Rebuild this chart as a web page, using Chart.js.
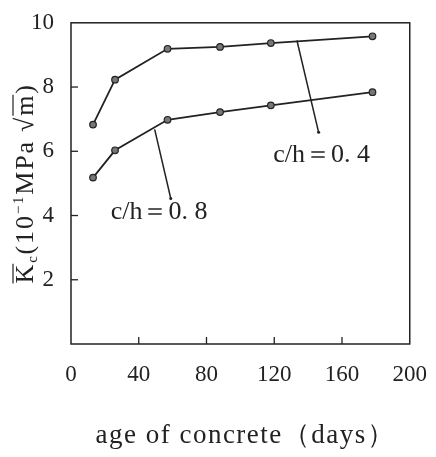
<!DOCTYPE html>
<html>
<head>
<meta charset="utf-8">
<script src="https://cdn.jsdelivr.net/npm/chart.js@4/dist/chart.umd.min.js"></script>
<style>
  html, body { margin: 0; padding: 0; background: #fff; }
  #wrap { width: 436px; height: 457px; }
</style>
</head>
<body>
<div id="wrap"><canvas id="chart" width="436" height="457"></canvas></div>
<script>
// values
const ages = [13, 26, 57, 88, 118, 178];
const kc04 = [6.83, 8.23, 9.19, 9.25, 9.37, 9.58];
const kc08 = [5.18, 6.03, 6.98, 7.22, 7.43, 7.84];

// leader lines from curve to label: [x, y] pairs
const leader04 = [[133.4, 9.45], [146.2, 6.59]];
const leader08 = [[49.4, 6.68], [58.9, 4.53]];

const labelText = ['c/h＝0. 4', 'c/h＝0. 8'];
const labelPos = [[148, 5.87], [52, 4.1]];

const xTicks = [0, 40, 80, 120, 160, 200];
const yTicks = [2, 4, 6, 8, 10];

const FONT = '"Liberation Serif", "DejaVu Serif", serif';
const INK = '#222';

function pts(xs, ys) {
  return xs.map((x, i) => ({ x: x, y: ys[i] }));
}

// frame, inward ticks, labels and y title
const decor = {
  id: 'decor',
  afterDraw(chart) {
    const ctx = chart.ctx;
    const a = chart.chartArea;
    const xs = chart.scales.x, ys = chart.scales.y;
    ctx.save();
    ctx.strokeStyle = INK;
    ctx.lineWidth = 1.5;
    ctx.strokeRect(a.left, a.top, a.right - a.left, a.bottom - a.top);

    ctx.lineWidth = 1.3;
    yTicks.forEach(v => {
      if (v === 10) return;
      const py = ys.getPixelForValue(v);
      ctx.beginPath(); ctx.moveTo(a.left, py); ctx.lineTo(a.left + 7, py); ctx.stroke();
    });
    xTicks.forEach(v => {
      if (v === 0 || v === 200) return;
      const px = xs.getPixelForValue(v);
      ctx.beginPath(); ctx.moveTo(px, a.bottom); ctx.lineTo(px, a.bottom - 7); ctx.stroke();
    });

    // curve labels
    ctx.fillStyle = INK;
    ctx.font = '26px ' + FONT;
    ctx.textAlign = 'center';
    ctx.textBaseline = 'middle';
    labelText.forEach((t, i) => {
      ctx.fillText(t, xs.getPixelForValue(labelPos[i][0]), ys.getPixelForValue(labelPos[i][1]));
    });

    // x title
    ctx.font = '27px ' + FONT;
    ctx.letterSpacing = '1.5px';
    ctx.fillText('age of concrete（days）', (a.left + a.right) / 2 + 5, a.bottom + 92);

    // y title, rotated
    ctx.letterSpacing = '1.8px';
    ctx.translate(24, (a.top + a.bottom) / 2);
    ctx.rotate(-Math.PI / 2);
    ctx.textAlign = 'left';
    ctx.textBaseline = 'alphabetic';
    const parts = [
      { t: 'K', f: 26, dy: 0, over: true },
      { t: 'c', f: 15, dy: 4 },
      { t: '(10', f: 26, dy: 0 },
      { t: '−1', f: 15, dy: -10 },
      { t: 'MPa ', f: 26, dy: 0 },
      { t: '√', f: 26, dy: 0 },
      { t: 'm', f: 26, dy: 0, over: true },
      { t: ')', f: 26, dy: 0 }
    ];
    let total = 0;
    parts.forEach(p => { ctx.font = p.f + 'px ' + FONT; p.w = ctx.measureText(p.t).width; total += p.w; });
    let x = -total / 2;
    const baseY = 9;
    parts.forEach(p => {
      ctx.font = p.f + 'px ' + FONT;
      ctx.fillText(p.t, x, baseY + p.dy);
      if (p.over) {
        ctx.lineWidth = 1.2;
        ctx.beginPath();
        ctx.moveTo(x, baseY - 20); ctx.lineTo(x + p.w - 1, baseY - 20);
        ctx.stroke();
      }
      x += p.w;
    });
    ctx.restore();
  }
};

const markerStyle = {
  showLine: true,
  borderColor: INK,
  borderWidth: 1.8,
  pointRadius: 3.3,
  pointBackgroundColor: '#777',
  pointBorderColor: INK,
  pointBorderWidth: 1.2,
  tension: 0
};

const leaderStyle = {
  showLine: true,
  borderColor: INK,
  borderWidth: 1.5,
  pointRadius: [0, 1.5],
  pointBackgroundColor: INK,
  pointBorderWidth: 0
};

new Chart(document.getElementById('chart'), {
  type: 'scatter',
  data: {
    datasets: [
      Object.assign({ label: 'c/h=0.4', data: pts(ages, kc04) }, markerStyle),
      Object.assign({ label: 'c/h=0.8', data: pts(ages, kc08) }, markerStyle),
      Object.assign({ label: 'lead 0.4', data: leader04.map(p => ({ x: p[0], y: p[1] })) }, leaderStyle),
      Object.assign({ label: 'lead 0.8', data: leader08.map(p => ({ x: p[0], y: p[1] })) }, leaderStyle)
    ]
  },
  options: {
    responsive: false,
    animation: false,
    layout: { padding: { top: 10, right: 23, left: 0, bottom: 0 } },
    plugins: { legend: { display: false }, tooltip: { enabled: false } },
    scales: {
      x: {
        type: 'linear', min: 0, max: 200,
        grid: { display: false }, border: { display: false },
        afterBuildTicks: s => { s.ticks = xTicks.map(v => ({ value: v })); },
        afterFit: s => { s.height = 113; },
        ticks: { color: INK, padding: 9, maxRotation: 0, font: { family: FONT, size: 23 } }
      },
      y: {
        type: 'linear', min: 0, max: 10,
        grid: { display: false }, border: { display: false },
        afterBuildTicks: s => { s.ticks = yTicks.map(v => ({ value: v })); },
        afterFit: s => { s.width = 71; },
        ticks: { color: INK, padding: 9, font: { family: FONT, size: 23 } }
      }
    }
  },
  plugins: [decor]
});
</script>
</body>
</html>
